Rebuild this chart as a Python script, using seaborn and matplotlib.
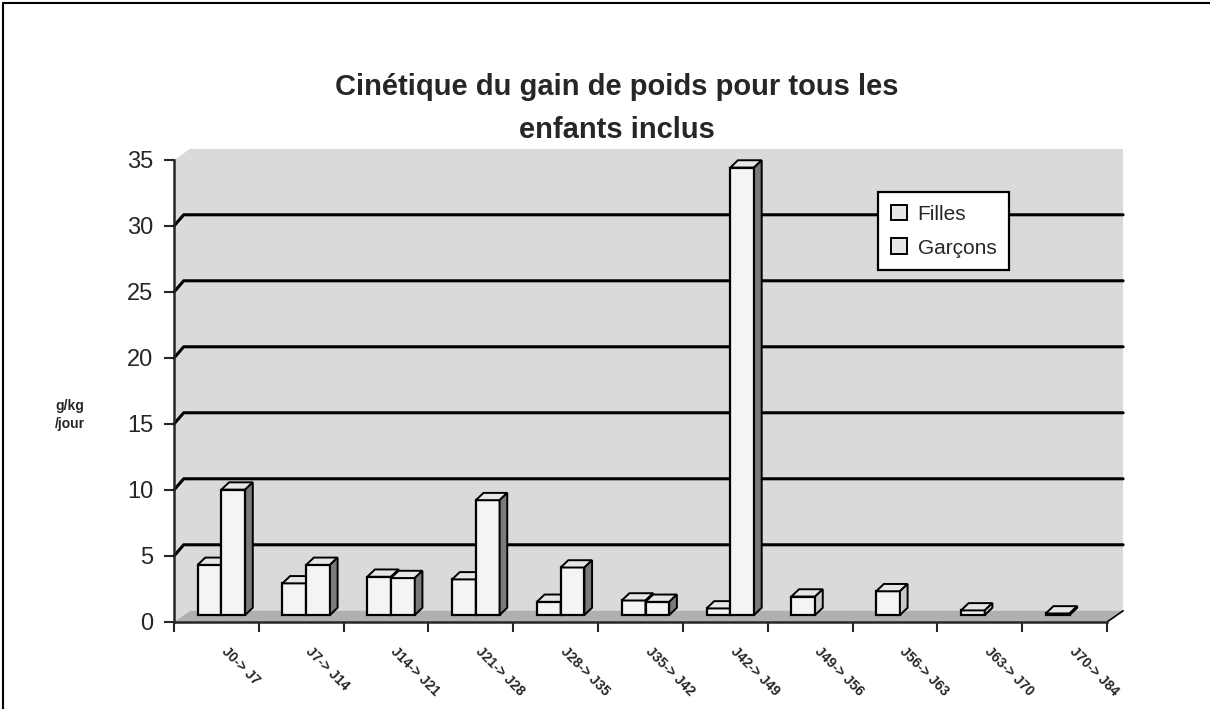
import numpy as np
import pandas as pd
import matplotlib
matplotlib.use("Agg")
import matplotlib.pyplot as plt
import seaborn as sns
from matplotlib.patches import Polygon, Patch, Rectangle
from matplotlib.lines import Line2D
from matplotlib.transforms import ScaledTranslation

# data (g/kg/jour)
periods = ["J0-> J7", "J7-> J14", "J14-> J21", "J21-> J28", "J28-> J35", "J35-> J42",
           "J42-> J49", "J49-> J56", "J56-> J63", "J63-> J70", "J70-> J84"]
filles = [3.8, 2.4, 2.9, 2.7, 1.0, 1.1, 0.5, 1.4, 1.8, 0.35, 0.12]
garcons = [9.5, 3.8, 2.8, 8.7, 3.6, 1.0, 33.9, None, None, None, None]
series = ["Filles", "Garçons"]
yticks = [0, 5, 10, 15, 20, 25, 30, 35]

rows = []
for p, f, g in zip(periods, filles, garcons):
    if f is not None:
        rows.append({"periode": p, "sexe": "Filles", "gain": f})
    if g is not None:
        rows.append({"periode": p, "sexe": "Garçons", "gain": g})
df = pd.DataFrame(rows)

sns.set_style("white")
plt.rcParams["font.family"] = ["Liberation Sans", "DejaVu Sans"]

fig = plt.figure(figsize=(12.1, 7.09), dpi=100)
ax = fig.add_axes([174 / 1210, 87 / 709, 933 / 1210, 462 / 709])
ax.set_facecolor("none")

front = "#f4f4f4"
sns.barplot(data=df, x="periode", y="gain", hue="sexe", order=periods, hue_order=series,
            palette=[front, front], width=0.56, gap=0, edgecolor="black", linewidth=1.6,
            legend=False, ax=ax)

ax.set_xlim(-0.5, 10.5)
ax.set_ylim(0, 35)

# depth of the 3D effect, in data units
bdx, bdy = 0.09, 0.55      # bar depth
wdx, wdy = 0.19, 0.85      # back wall offset
xmin, xmax = -0.5, 10.5

# bars stand in the middle of the floor depth
bar_tr = ax.transData + ScaledTranslation(0.05, 0.07, fig.dpi_scale_trans)

# back wall, side wall and floor
wall = "#dadada"
ax.add_patch(Polygon([(xmin + wdx, wdy), (xmax + wdx, wdy), (xmax + wdx, 35 + wdy), (xmin + wdx, 35 + wdy)],
                     closed=True, fc=wall, ec="none", zorder=0, clip_on=False))
ax.add_patch(Polygon([(xmin, 0), (xmin + wdx, wdy), (xmin + wdx, 35 + wdy), (xmin, 35)],
                     closed=True, fc=wall, ec="none", zorder=0, clip_on=False))
ax.add_patch(Polygon([(xmin, 0), (xmax, 0), (xmax + wdx, wdy), (xmin + wdx, wdy)],
                     closed=True, fc="#b0b0b0", ec="none", zorder=0.5, clip_on=False))
ax.plot([xmax, xmax + wdx], [0, wdy], color="black", lw=1.2, clip_on=False, zorder=1)

# gridlines on the back wall, with the slanted joint on the side wall
for t in yticks[1:-1]:
    ax.plot([xmin, xmin + wdx * 0.6, xmax + wdx], [t, t + wdy, t + wdy], color="black",
            lw=2.2, clip_on=False, zorder=1)

# faces of the bars
for bar in list(ax.patches):
    if not isinstance(bar, Rectangle) or bar.get_height() <= 0:
        continue
    x0, w, h = bar.get_x(), bar.get_width(), bar.get_height()
    x1 = x0 + w
    is_g = x0 + w / 2 > np.round(x0 + w / 2)
    z = 3 if is_g else 2.5
    side_c = "#7a7a7a" if is_g else "#c8c8c8"
    bar.set_zorder(z)
    bar.set_transform(bar_tr)
    bar.set_clip_on(False)
    ax.add_patch(Polygon([(x0, h), (x1, h), (x1 + bdx, h + bdy), (x0 + bdx, h + bdy)],
                         closed=True, fc="#e6e6e6", ec="black", lw=1.4, zorder=z,
                         clip_on=False, transform=bar_tr))
    ax.add_patch(Polygon([(x1, 0), (x1 + bdx, bdy), (x1 + bdx, h + bdy), (x1, h)],
                         closed=True, fc=side_c, ec="black", lw=1.4, zorder=z,
                         clip_on=False, transform=bar_tr))

# axes, ticks, labels
for s in ["top", "right"]:
    ax.spines[s].set_visible(False)
ax.spines["left"].set_linewidth(1.8)
ax.spines["bottom"].set_linewidth(1.8)
ax.spines["left"].set_zorder(4)
ax.spines["bottom"].set_zorder(4)

ax.set_yticks(yticks)
ax.tick_params(axis="y", direction="out", length=7, width=1.5, labelsize=17, pad=8, left=True)
ax.set_xticks(range(len(periods)))
ax.set_xticklabels(periods, rotation=-45, ha="left", va="top", rotation_mode="anchor",
                   fontsize=10, fontweight="bold")
ax.tick_params(axis="x", length=0, pad=16)
lab_shift = ScaledTranslation(0.12, 0, fig.dpi_scale_trans)
for lab in ax.get_xticklabels():
    lab.set_transform(lab.get_transform() + lab_shift)
ax.set_xticks(np.arange(-0.5, 11, 1), minor=True)
ax.tick_params(axis="x", which="minor", direction="out", length=7, width=1.5, bottom=True)
ax.set_xlabel("")
ax.set_ylabel("")

fig.text(70 / 1210, 1 - 415 / 709, "g/kg\n/jour", ha="center", va="center", fontsize=10,
         fontweight="bold", linespacing=1.4)

fig.text(617 / 1210, 1 - 87 / 709, "Cinétique du gain de poids pour tous les",
         ha="center", va="center", fontsize=21, fontweight="bold")
fig.text(617 / 1210, 1 - 130 / 709, "enfants inclus",
         ha="center", va="center", fontsize=21, fontweight="bold")

handles = [Patch(fc="#e6e6e6", ec="black", lw=1.4) for _ in series]
leg = fig.legend(handles, series, loc="upper left", bbox_to_anchor=(878 / 1210, 1 - 192 / 709),
                 fontsize=15, frameon=True, fancybox=False, handlelength=0.8, handleheight=0.8,
                 handletextpad=0.5, labelspacing=0.7, borderpad=0.6, borderaxespad=0)
leg.get_frame().set_edgecolor("black")
leg.get_frame().set_linewidth(1.6)
leg.get_frame().set_facecolor("white")
leg.get_frame().set_alpha(1)

# outer frame of the figure
fig.add_artist(Line2D([3 / 1210, 3 / 1210], [0, 1 - 3 / 709], transform=fig.transFigure, color="black", lw=1.5))
fig.add_artist(Line2D([3 / 1210, 1], [1 - 3 / 709, 1 - 3 / 709], transform=fig.transFigure, color="black", lw=1.5))

fig.savefig("out.png", dpi=100)
